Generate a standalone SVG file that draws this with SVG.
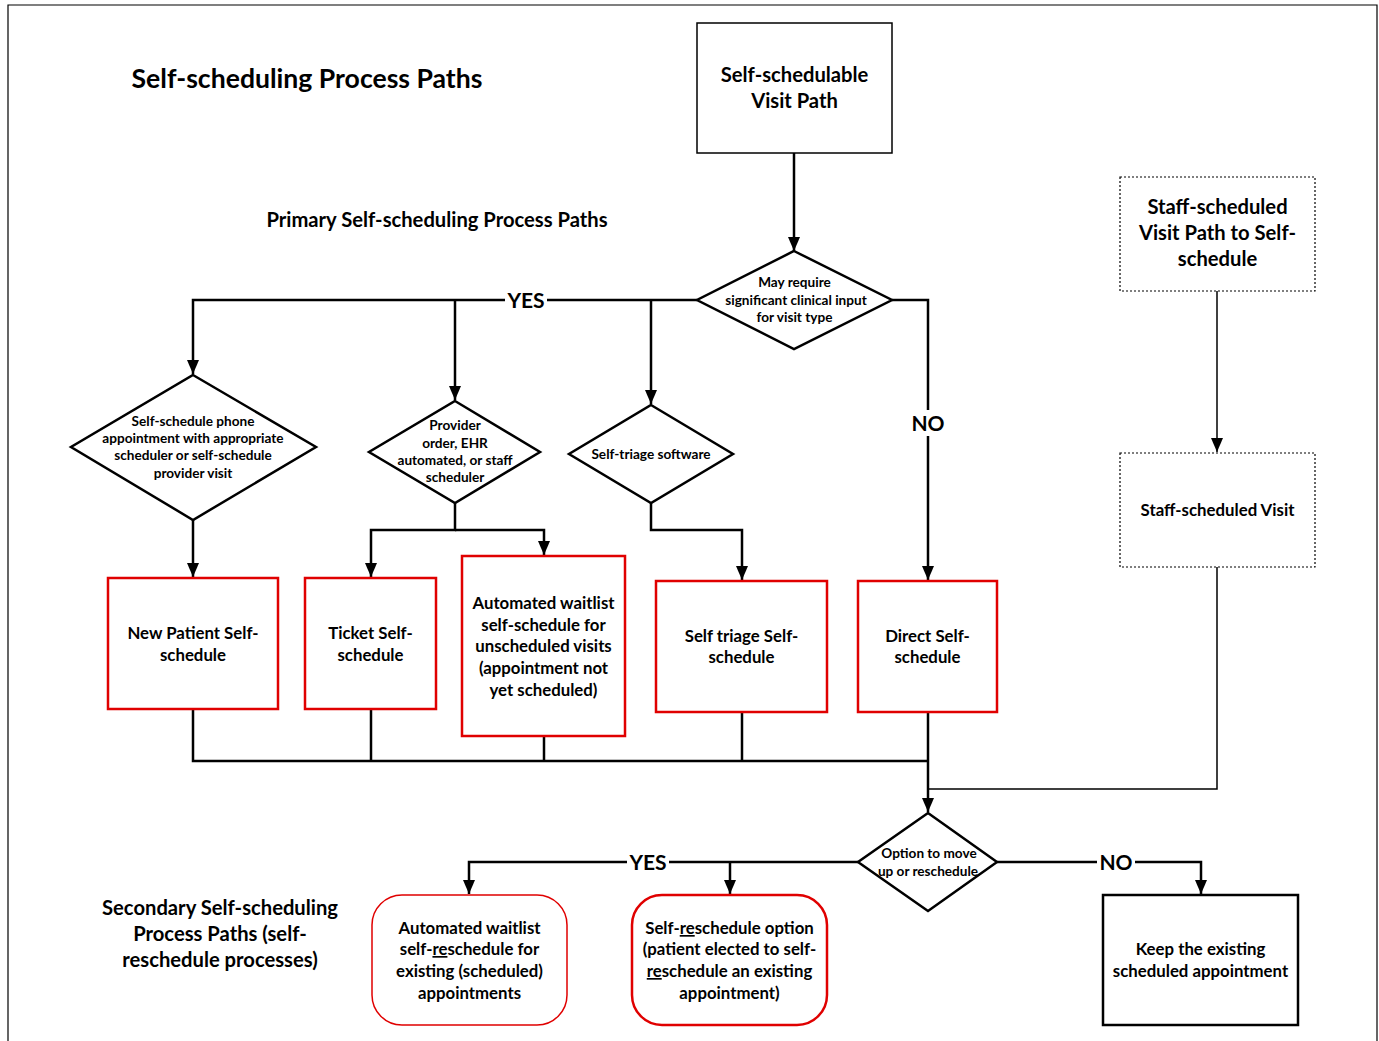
<svg xmlns="http://www.w3.org/2000/svg" width="1379" height="1041" viewBox="0 0 1379 1041">
<defs>
<marker id="ah" viewBox="0 0 14 12" refX="14" refY="6" markerWidth="14" markerHeight="12" markerUnits="userSpaceOnUse" orient="auto">
<path d="M0,0 L14,6 L0,12 Z" fill="#000"/>
</marker>
<style>
text{font-family:Lato,"Liberation Sans",sans-serif;font-weight:bold;fill:#000;text-anchor:middle}
.t{font-size:16.8px}
.s{font-size:13.6px}
.h{font-size:20.2px}
.c{fill:none;stroke:#000;stroke-width:2.5}
.thin{fill:none;stroke:#000;stroke-width:1.5}
.box{fill:#fff;stroke:#000;stroke-width:1.5}
.dash{fill:#fff;stroke:#000;stroke-width:1.2;stroke-dasharray:2,2}
.red{fill:#fff;stroke:#e00000;stroke-width:2.5}
.dia{fill:#fff;stroke:#000;stroke-width:2.5}
.lbl{font-size:21px}
</style>
</defs>
<rect width="1379" height="1041" fill="#fff"/>
<path d="M8,1041 V5 H1377 V1041" fill="none" stroke="#000" stroke-width="1.2"/>

<text x="307" y="88" style="font-size:26.6px">Self-scheduling Process Paths</text>
<text x="437" y="227" class="h">Primary Self-scheduling Process Paths</text>
<text class="h" x="220"><tspan x="220" y="915">Secondary Self-scheduling</tspan><tspan x="220" y="941">Process Paths (self-</tspan><tspan x="220" y="967">reschedule processes)</tspan></text>

<g id="connectors">
<path class="c" d="M794,153 V251" marker-end="url(#ah)"/>
<path class="c" d="M697,300 H193 V374" marker-end="url(#ah)"/>
<path class="c" d="M455,300 V400" marker-end="url(#ah)"/>
<path class="c" d="M651,300 V404" marker-end="url(#ah)"/>
<path class="c" d="M892,300 H928 V580" marker-end="url(#ah)"/>
<path class="c" d="M193,520 V577" marker-end="url(#ah)"/>
<path class="c" d="M455,503 V530 H371 V577" marker-end="url(#ah)"/>
<path class="c" d="M455,530 H544 V555" marker-end="url(#ah)"/>
<path class="c" d="M651,503 V530 H742 V580" marker-end="url(#ah)"/>
<path class="c" d="M193,709 V761 H928"/>
<path class="c" d="M371,709 V761"/>
<path class="c" d="M544,736 V761"/>
<path class="c" d="M742,712 V761"/>
<path class="c" d="M928,712 V812" marker-end="url(#ah)"/>
<path class="thin" d="M1217,291 V452" marker-end="url(#ah)"/>
<path class="thin" d="M1217,567 V789 H928"/>
<path class="c" d="M858,862 H469 V894" marker-end="url(#ah)"/>
<path class="c" d="M730,862 V894" marker-end="url(#ah)"/>
<path class="c" d="M997,862 H1201 V894" marker-end="url(#ah)"/>
<rect x="505" y="288" width="42" height="24" fill="#fff"/>
<text x="526" y="308" class="lbl">YES</text>
<rect x="908" y="410" width="40" height="26" fill="#fff"/>
<text x="928" y="431" class="lbl">NO</text>
<rect x="627" y="850" width="42" height="24" fill="#fff"/>
<text x="648" y="870" class="lbl">YES</text>
<rect x="1097" y="850" width="38" height="24" fill="#fff"/>
<text x="1116" y="870" class="lbl">NO</text>
</g>

<g id="n-start">
<rect class="box" x="697" y="23" width="195" height="130"/>
<text class="h"><tspan x="794.5" y="82">Self-schedulable</tspan><tspan x="794.5" y="108">Visit Path</tspan></text>
</g>

<g id="n-d1">
<polygon class="dia" points="794,251 892,300 794,349 697,300"/>
<text class="s"><tspan x="794.5" y="287">May require</tspan><tspan x="796" y="305">significant clinical input</tspan><tspan x="794.5" y="322">for visit type</tspan></text>
</g>

<g id="n-d2">
<polygon class="dia" points="193,375 316,447 193,520 71,447"/>
<text class="s"><tspan x="193" y="426">Self-schedule phone</tspan><tspan x="193" y="443">appointment with appropriate</tspan><tspan x="193" y="460">scheduler or self-schedule</tspan><tspan x="193" y="478">provider visit</tspan></text>
</g>

<g id="n-d3">
<polygon class="dia" points="455,401 540,452 455,503 369,452"/>
<text class="s"><tspan x="455" y="430">Provider</tspan><tspan x="455" y="448">order, EHR</tspan><tspan x="455" y="465">automated, or staff</tspan><tspan x="455" y="482">scheduler</tspan></text>
</g>

<g id="n-d4">
<polygon class="dia" points="651,405 733,454 651,503 569,454"/>
<text class="s" x="651" y="459">Self-triage software</text>
</g>

<g id="n-newpatient">
<rect class="red" x="108" y="578" width="170" height="131"/>
<text class="t"><tspan x="193" y="639">New Patient Self-</tspan><tspan x="193" y="661">schedule</tspan></text>
</g>

<g id="n-ticket">
<rect class="red" x="305" y="578" width="131" height="131"/>
<text class="t"><tspan x="370.5" y="639">Ticket Self-</tspan><tspan x="370.5" y="661">schedule</tspan></text>
</g>

<g id="n-waitlist">
<rect class="red" x="462" y="556" width="163" height="180"/>
<text class="t"><tspan x="543.5" y="609">Automated waitlist</tspan><tspan x="543.5" y="631">self-schedule for</tspan><tspan x="543.5" y="652">unscheduled visits</tspan><tspan x="543.5" y="674">(appointment not</tspan><tspan x="543.5" y="696">yet scheduled)</tspan></text>
</g>

<g id="n-selftriage">
<rect class="red" x="656" y="581" width="171" height="131"/>
<text class="t"><tspan x="741.5" y="642">Self triage Self-</tspan><tspan x="741.5" y="663">schedule</tspan></text>
</g>

<g id="n-direct">
<rect class="red" x="858" y="581" width="139" height="131"/>
<text class="t"><tspan x="927.5" y="642">Direct Self-</tspan><tspan x="927.5" y="663">schedule</tspan></text>
</g>

<g id="n-staffpath">
<rect class="dash" x="1120" y="177" width="195" height="114"/>
<text class="h"><tspan x="1217.5" y="214">Staff-scheduled</tspan><tspan x="1217.5" y="240">Visit Path to Self-</tspan><tspan x="1217.5" y="266">schedule</tspan></text>
</g>

<g id="n-staffvisit">
<rect class="dash" x="1120" y="453" width="195" height="114"/>
<text class="t" x="1217.5" y="516">Staff-scheduled Visit</text>
</g>

<g id="n-d5">
<polygon class="dia" points="928,813 997,862 928,911 858,862"/>
<text class="s"><tspan x="929" y="858">Option to move</tspan><tspan x="928" y="876">up or reschedule</tspan></text>
</g>

<g id="n-autoresched">
<rect x="372" y="895" width="195" height="130" rx="30" fill="#fff" stroke="#e00000" stroke-width="1.5"/>
<text class="t"><tspan x="469.5" y="934">Automated waitlist</tspan><tspan x="469.5" y="955">self-<tspan text-decoration="underline">re</tspan>schedule for</tspan><tspan x="469.5" y="977">existing (scheduled)</tspan><tspan x="469.5" y="999">appointments</tspan></text>
</g>

<g id="n-reschedopt">
<rect x="632" y="895" width="195" height="130" rx="30" fill="#fff" stroke="#e00000" stroke-width="2.5"/>
<text class="t"><tspan x="729.5" y="934">Self-<tspan text-decoration="underline">re</tspan>schedule option</tspan><tspan x="729.5" y="955">(patient elected to self-</tspan><tspan x="729.5" y="977"><tspan text-decoration="underline">re</tspan>schedule an existing</tspan><tspan x="729.5" y="999">appointment)</tspan></text>
</g>

<g id="n-keep">
<rect x="1103" y="895" width="195" height="130" fill="#fff" stroke="#000" stroke-width="2.5"/>
<text class="t"><tspan x="1200.5" y="955">Keep the existing</tspan><tspan x="1200.5" y="977">scheduled appointment</tspan></text>
</g>
</svg>
